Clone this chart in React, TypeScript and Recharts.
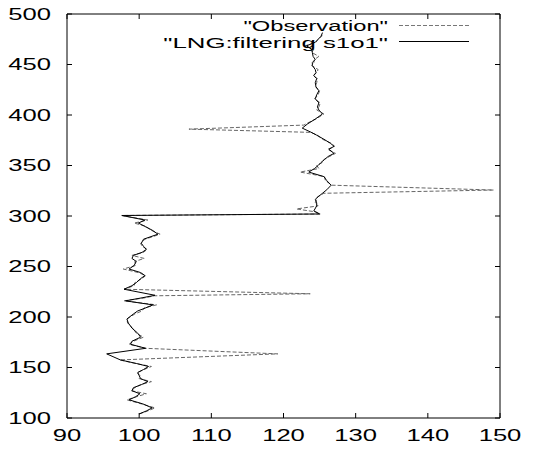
import React from 'react';
import { ScatterChart, Scatter, XAxis, YAxis, Legend } from 'recharts';

const xTicks = [90, 100, 110, 120, 130, 140, 150];
const yTicks = [100, 150, 200, 250, 300, 350, 400, 450, 500];
const seriesNames = ['"Observation"', '"LNG:filtering s1o1"'];

// [depth (y), value (x)]
const observation: [number, number][] = [
  [104, 100.0], [107, 101.2], [110, 102.2], [114, 100.3], [118, 98.3], [121, 99.6], [124, 101.0],
  [127, 98.9], [130, 99.4], [133, 100.2], [136, 101.7], [139, 100.0], [142, 100.1], [145, 99.7],
  [148, 100.7], [151, 101.7], [154, 99.5], [157.5, 97.3], [163.5, 119.2], [169, 100.9], [173, 98.6],
  [176, 99.2], [180, 100.6], [184, 99.6], [189, 99.1], [194, 98.4], [198, 98.3], [203, 99.4],
  [206, 100.4], [209, 100.7], [212, 102.4], [216, 97.9], [219, 100.8], [221, 102.1], [223, 123.7],
  [227.5, 97.9], [231, 99.3], [234, 99.4], [238, 100.4], [241, 100.9], [244, 99.9], [247.5, 97.8],
  [251, 99.5], [255, 99.4], [258, 100.7], [261, 99.0], [264, 100.6], [267, 101.1], [270, 100.4],
  [273, 100.2], [277, 100.8], [282, 102.9], [286, 101.6], [290, 100.9], [293, 99.3], [296, 101.2],
  [300.5, 97.6], [302, 125.1], [304, 124.5], [307, 121.8], [310, 124.8], [313, 124.4], [316.5, 124.6],
  [319, 124.7], [322.5, 125.6], [325.7, 149.1], [330.5, 126.7], [335, 125.8], [339, 125.7],
  [343.5, 122.3], [347, 124.9], [350, 124.6], [353, 125.4], [356, 125.6], [359, 126.4], [362, 127.2],
  [366, 126.1], [369, 127.1], [372, 126.6], [376, 125.4], [380, 124.7], [382.8, 123.8], [386, 106.9],
  [390, 122.8], [393, 123.6], [396, 124.5], [401, 125.6], [405, 124.6], [408, 124.9], [412, 125.1],
  [416, 124.3], [420, 124.8], [424, 125.0], [428, 124.4], [432, 124.6], [436, 124.7], [439, 124.1],
  [442, 124.6], [445, 124.8], [449, 123.9], [452, 124.2], [455, 124.3], [458, 124.9], [462, 123.9],
  [465, 124.2], [468.5, 123.0], [472, 124.5], [475, 124.8], [478, 125.3], [481.5, 125.4],
];

const filtered: [number, number][] = [
  [104, 100.0], [107, 101.0], [110, 101.8], [114, 100.5], [118, 98.6], [121, 99.5], [124, 100.1],
  [127, 99.0], [130, 99.2], [133, 100.3], [136, 101.2], [139, 100.2], [142, 100.0], [145, 99.8],
  [148, 100.6], [151, 101.3], [154, 99.6], [157.5, 97.4], [163.5, 95.5], [169, 100.9], [173, 98.8],
  [176, 99.0], [180, 100.2], [184, 99.8], [189, 99.0], [194, 98.5], [198, 98.3], [203, 99.2],
  [206, 99.8], [209, 100.9], [212, 101.9], [216, 98.1], [219, 100.4], [221.5, 102.2], [227.5, 97.9],
  [231, 99.0], [234, 99.6], [238, 100.2], [241, 100.8], [244, 100.2], [247.5, 98.6], [251, 99.3],
  [255, 99.6], [258, 99.0], [261, 99.2], [264, 100.4], [267, 101.0], [270, 100.6], [273, 100.3],
  [277, 100.6], [282, 102.6], [286, 101.8], [290, 100.7], [293, 99.9], [296, 100.8], [300.5, 97.6],
  [302, 125.0], [305, 124.2], [310, 124.6], [313, 124.6], [316.5, 124.4], [319, 124.8], [322.5, 125.4],
  [326, 126.0], [330.5, 126.6], [335, 126.0], [339, 125.6], [343.5, 123.5], [347, 124.3], [350, 124.8],
  [353, 125.2], [356, 125.7], [359, 126.2], [362, 127.0], [366, 126.3], [369, 127.0], [372, 126.5],
  [376, 125.6], [380, 124.6], [383, 123.8], [387, 122.6], [391, 123.3], [396, 124.4], [401, 125.4],
  [405, 124.9], [408, 124.7], [412, 124.9], [416, 124.4], [420, 124.6], [424, 124.9], [428, 124.5],
  [432, 124.4], [436, 124.6], [439, 124.2], [442, 124.5], [445, 124.4], [449, 124.0], [452, 124.0],
  [455, 124.4], [458, 124.1], [462, 124.0], [465, 123.9], [468.5, 123.2], [472, 124.4], [475, 124.8],
  [478, 125.2], [481.5, 125.4],
];

const obsData = observation.map(([d, v]) => ({ d, v }));
const filtData = filtered.map(([d, v]) => ({ d, v }));

const W = 549;
const H = 450;
const LEFT = 67;
const RIGHT = 500;
const TOP = 14;
const BOTTOM = 418;
const M = { top: TOP - 1, right: W - RIGHT - 1, bottom: H - BOTTOM - 24, left: 0 };
const FONT = '"Liberation Sans", Arial, Helvetica, sans-serif';
const FS = 16;
const SX = 1.6;
const TICK = 5;

const Label = ({ x, y, anchor, text, size = FS, sx = SX }: { x: number; y: number; anchor: string; text: string; size?: number; sx?: number }) => (
  <text
    transform={`translate(${x} ${y}) scale(${sx} 1)`}
    textAnchor={anchor as any}
    fontFamily={FONT}
    fontSize={size}
    fill="#000"
  >
    {text}
  </text>
);

const BottomTick = (props: any) => {
  const { x, payload } = props;
  return (
    <g>
      <line x1={x} x2={x} y1={BOTTOM} y2={BOTTOM - TICK} stroke="#000" />
      <Label x={x} y={BOTTOM + 23} anchor="middle" text={String(payload.value)} />
    </g>
  );
};
const TopTick = (props: any) => (
  <line x1={props.x} x2={props.x} y1={TOP} y2={TOP + TICK} stroke="#000" />
);
const LeftTick = (props: any) => {
  const { y, payload } = props;
  return (
    <g>
      <line x1={LEFT} x2={LEFT + TICK} y1={y} y2={y} stroke="#000" />
      <Label x={LEFT - 16} y={y + 5.7} anchor="end" text={String(payload.value)} />
    </g>
  );
};
const RightTick = (props: any) => (
  <line x1={RIGHT} x2={RIGHT - TICK} y1={props.y} y2={props.y} stroke="#000" />
);

const LegendBox = () => (
  <svg width={W} height={58} style={{ display: 'block' }}>
    <Label x={388} y={30.8} anchor="end" text={seriesNames[0]} size={15} sx={1.58} />
    <line x1={399} x2={469} y1={25.5} y2={25.5} stroke="#777" strokeDasharray="4 2" />
    <Label x={388} y={47.6} anchor="end" text={seriesNames[1]} size={15} sx={1.72} />
    <line x1={399} x2={469} y1={41.5} y2={41.5} stroke="#000" />
  </svg>
);

const NoDot = () => <g />;

export default function App() {
  return (
    <div style={{ marginTop: -8, marginLeft: -8, width: W, height: H - 8 }}>
      <ScatterChart width={W} height={H} margin={M}>
        <XAxis
          orientation="bottom"
          type="number"
          dataKey="v"
          domain={[90, 150]}
          ticks={xTicks}
          allowDataOverflow
          interval={0}
          height={24}
          tickLine={false}
          axisLine={{ stroke: '#000' }}
          tick={(p: any) => <BottomTick {...p} />}
        />
        <XAxis
          xAxisId="t"
          orientation="top"
          type="number"
          dataKey="v"
          domain={[90, 150]}
          ticks={xTicks}
          allowDataOverflow
          interval={0}
          height={1}
          tickLine={false}
          axisLine={{ stroke: '#000' }}
          tick={(p: any) => <TopTick {...p} />}
        />
        <YAxis
          orientation="left"
          type="number"
          dataKey="d"
          domain={[100, 500]}
          ticks={yTicks}
          allowDataOverflow
          interval={0}
          width={LEFT}
          tickLine={false}
          axisLine={{ stroke: '#000' }}
          tick={(p: any) => <LeftTick {...p} />}
        />
        <YAxis
          yAxisId="r"
          orientation="right"
          type="number"
          dataKey="d"
          domain={[100, 500]}
          ticks={yTicks}
          allowDataOverflow
          interval={0}
          width={1}
          tickLine={false}
          axisLine={{ stroke: '#000' }}
          tick={(p: any) => <RightTick {...p} />}
        />
        <Legend
          verticalAlign="middle"
          align="center"
          layout="horizontal"
          content={() => <LegendBox />}
          wrapperStyle={{ position: 'absolute', left: 0, top: 0, width: W, height: 58, margin: 0, padding: 0, pointerEvents: 'none' }}
        />
        <Scatter
          name={seriesNames[0]}
          data={obsData}
          fill="#666"
          line={{ stroke: '#666', strokeWidth: 1, strokeDasharray: '4 2' }}
          shape={NoDot}
          isAnimationActive={false}
        />
        <Scatter
          name={seriesNames[1]}
          data={filtData}
          xAxisId="t"
          yAxisId="r"
          fill="#000"
          line={{ stroke: '#000', strokeWidth: 1 }}
          shape={NoDot}
          isAnimationActive={false}
        />
      </ScatterChart>
    </div>
  );
}
